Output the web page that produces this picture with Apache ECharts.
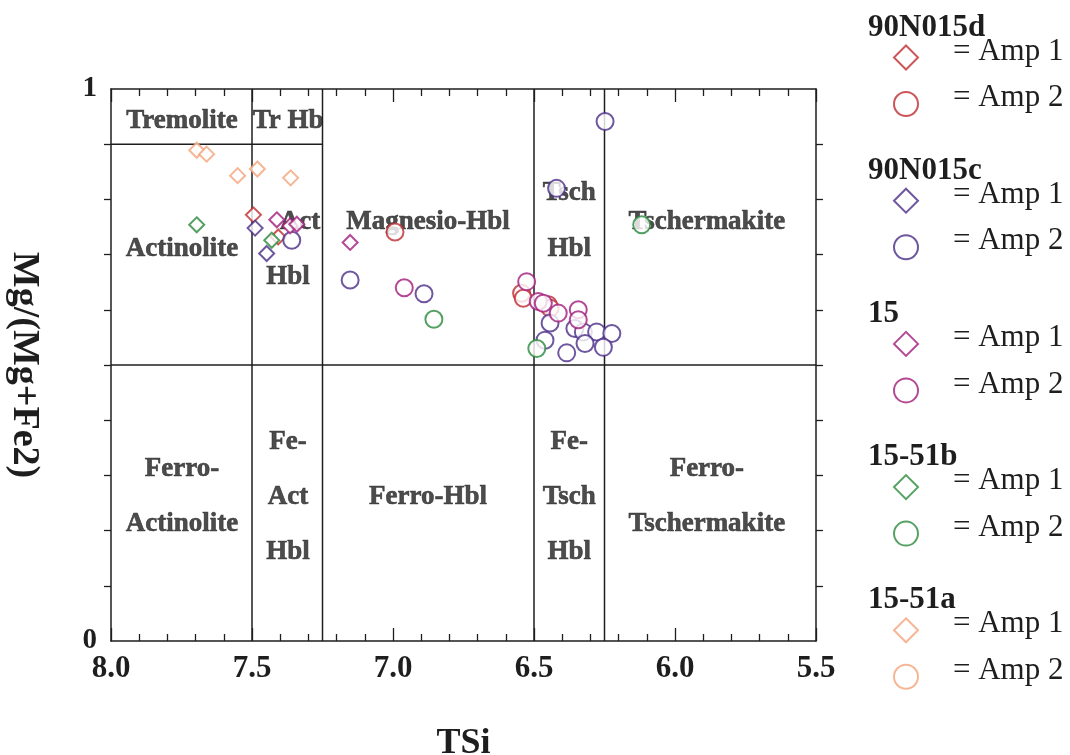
<!DOCTYPE html>
<html>
<head>
<meta charset="utf-8">
<script src="https://cdn.jsdelivr.net/npm/echarts/dist/echarts.min.js"></script>
<style>
  html, body { margin: 0; padding: 0; background: #ffffff; }
  #chart { width: 1070px; height: 755px; }
</style>
</head>
<body>
<div id="chart"></div>
<script>
// Amphibole analyses: [TSi, Mg/(Mg+Fe2)]
const s90N015d_amp1 = [[7.495, 0.772], [7.407, 0.732]];
const s90N015d_amp2 = [[6.993, 0.741], [6.544, 0.630], [6.538, 0.621], [6.449, 0.609], [6.443, 0.603]];
const s90N015c_amp1 = [[7.489, 0.748], [7.448, 0.702]];
const s90N015c_amp2 = [[7.359, 0.726], [7.152, 0.654], [6.890, 0.629], [6.248, 0.941], [6.420, 0.820],
                       [6.443, 0.576], [6.355, 0.566], [6.325, 0.560], [6.278, 0.560], [6.224, 0.557],
                       [6.461, 0.545], [6.319, 0.539], [6.254, 0.532], [6.384, 0.522]];
const s15_amp1 = [[7.412, 0.763], [7.365, 0.752], [7.341, 0.755], [7.152, 0.722]];
const s15_amp2 = [[6.960, 0.640], [6.526, 0.651], [6.485, 0.615], [6.467, 0.612], [6.414, 0.594],
                  [6.343, 0.600], [6.343, 0.582]];
const s1551b_amp1 = [[7.696, 0.754], [7.430, 0.726]];
const s1551b_amp2 = [[6.855, 0.583], [6.118, 0.754], [6.490, 0.530]];
const s1551a_amp1 = [[7.696, 0.889], [7.661, 0.882], [7.551, 0.843], [7.481, 0.855], [7.363, 0.839]];
const s1551a_amp2 = [];

// Sample groups (legend order) and colours
const sampleNames = ['90N015d', '90N015c', '15', '15-51b', '15-51a'];
const sampleColors = ['#bf2a30', '#4b2d88', '#a01c7c', '#2a8a3c', '#f4a47a'];
const sampleData = [
  [s90N015d_amp1, s90N015d_amp2],
  [s90N015c_amp1, s90N015c_amp2],
  [s15_amp1, s15_amp2],
  [s1551b_amp1, s1551b_amp2],
  [s1551a_amp1, s1551a_amp2]
];

// Axis ticks
const xTickLabels = ['8.0', '7.5', '7.0', '6.5', '6.0', '5.5'];
const yTickLabels = ['0', '1'];

// Field boundaries of the classification diagram
const boundaries = [
  [[7.5, 0], [7.5, 1]],
  [[7.25, 0], [7.25, 1]],
  [[6.5, 0], [6.5, 1]],
  [[6.25, 0], [6.25, 1]],
  [[8.0, 0.5], [5.5, 0.5]],
  [[8.0, 0.9], [7.25, 0.9]]
];

// Field names and their anchor points
const fieldNames = [
  'Tremolite', 'Tr Hb', 'Actinolite', 'Act', 'Hbl', 'Magnesio-Hbl', 'Tsch', 'Hbl', 'Tschermakite',
  'Ferro-\nActinolite', 'Fe-\nAct\nHbl', 'Ferro-Hbl', 'Fe-\nTsch\nHbl', 'Ferro-\nTschermakite'
];
const fieldAnchors = [
  [7.748, 0.942], [7.372, 0.942], [7.748, 0.710], [7.330, 0.759], [7.372, 0.659], [6.876, 0.759],
  [6.375, 0.812], [6.375, 0.710], [5.887, 0.759],
  [7.748, 0.261], [7.372, 0.261], [6.876, 0.261], [6.375, 0.261], [5.887, 0.261]
];

const SERIF = '"Liberation Serif", "DejaVu Serif", serif';
const INK = '#1e1e1e';
const FIELD_INK = '#1f1f1f';

const series = [];
boundaries.forEach(seg => {
  series.push({
    type: 'line', data: seg, symbol: 'none', silent: true, z: 1,
    lineStyle: { color: INK, width: 1.5 }, animation: false
  });
});
series.push({
  type: 'scatter', silent: true, z: 2, symbolSize: 0, animation: false,
  data: fieldNames.map((n, i) => ({ name: n, value: fieldAnchors[i] })),
  label: {
    show: true, position: 'inside', formatter: '{b}',
    fontFamily: SERIF, fontWeight: 'bold', fontSize: 27, color: FIELD_INK, lineHeight: 55,
    textBorderColor: FIELD_INK, textBorderWidth: 0.6
  }
});
sampleNames.forEach((name, gi) => {
  ['Amp 1', 'Amp 2'].forEach((amp, ai) => {
    series.push({
      name: name + ' ' + amp,
      type: 'scatter',
      z: 3,
      animation: false,
      symbol: ai === 0 ? 'emptyDiamond' : 'emptyCircle',
      symbolSize: ai === 0 ? 15 : 17,
      data: sampleData[gi][ai],
      itemStyle: { color: sampleColors[gi], borderWidth: 1.8 }
    });
  });
});

const legends = sampleNames.map((name, gi) => ({
  orient: 'vertical',
  left: 888,
  top: 31 + gi * 143.2,
  itemWidth: 24,
  itemHeight: 24,
  itemGap: 12,
  selectedMode: false,
  data: [
    { name: name + ' Amp 1', icon: 'emptyDiamond', itemStyle: { color: sampleColors[gi], borderColor: sampleColors[gi], borderWidth: 2.5 } },
    { name: name + ' Amp 2', icon: 'emptyCircle', itemStyle: { color: sampleColors[gi], borderColor: sampleColors[gi], borderWidth: 2.5 } }
  ],
  formatter: n => '{t|= ' + n.slice(name.length + 1) + '}',
  textStyle: {
    fontFamily: SERIF, fontSize: 31, color: INK, padding: [0, 0, 0, 30],
    rich: { t: { fontFamily: SERIF, fontSize: 31, color: INK, padding: [0, 0, 12, 0] } }
  }
}));

const titles = sampleNames.map((name, gi) => ({
  type: 'text',
  left: 868,
  top: 12 + gi * 143.2,
  style: { text: name, font: 'bold 31px ' + SERIF, fill: INK }
}));

const tickCommon = {
  axisLine: { show: true, onZero: false, lineStyle: { color: INK, width: 1.5 } },
  splitLine: { show: false }
};

const chart = echarts.init(document.getElementById('chart'));
chart.setOption({
  backgroundColor: '#ffffff',
  animation: false,
  grid: { left: 111, right: 254, top: 89, bottom: 114, outerBoundsMode: 'none', containLabel: false },
  legend: legends,
  graphic: titles,
  xAxis: [
    Object.assign({
      type: 'value', inverse: true, min: 5.5, max: 8.0, interval: 0.5, position: 'bottom',
      name: 'TSi', nameLocation: 'middle', nameGap: 85,
      nameTextStyle: { fontFamily: SERIF, fontWeight: 'bold', fontSize: 36, color: INK },
      axisTick: { inside: true, length: 13, lineStyle: { color: INK, width: 1.3 } },
      minorTick: { show: true, splitNumber: 5, length: 7, lineStyle: { color: INK, width: 1.3 } },
      axisLabel: {
        margin: 12, fontFamily: SERIF, fontWeight: 'bold', fontSize: 31, color: INK,
        formatter: v => xTickLabels.find(t => Math.abs(parseFloat(t) - v) < 1e-6) || ''
      }
    }, tickCommon),
    Object.assign({
      type: 'value', inverse: true, min: 5.5, max: 8.0, interval: 0.5, position: 'top',
      axisTick: { inside: true, length: 13, lineStyle: { color: INK, width: 1.3 } },
      minorTick: { show: true, splitNumber: 5, length: 7, lineStyle: { color: INK, width: 1.3 } },
      axisLabel: { show: false }
    }, tickCommon)
  ],
  yAxis: [
    Object.assign({
      type: 'value', min: 0, max: 1, interval: 1, position: 'left',
      name: 'Mg/(Mg+Fe2)', nameLocation: 'middle', nameGap: 68, nameRotate: -90,
      nameTextStyle: { fontFamily: SERIF, fontWeight: 'bold', fontSize: 38, color: INK },
      axisTick: { show: false },
      minorTick: { show: true, splitNumber: 10, length: 7, lineStyle: { color: INK, width: 1.3 } },
      axisLabel: {
        margin: 14, fontFamily: SERIF, fontWeight: 'bold', fontSize: 29, color: INK,
        formatter: v => yTickLabels.find(t => Math.abs(parseFloat(t) - v) < 1e-6) || ''
      }
    }, tickCommon),
    Object.assign({
      type: 'value', min: 0, max: 1, interval: 1, position: 'right',
      axisTick: { show: false },
      minorTick: { show: true, splitNumber: 10, length: 7, lineStyle: { color: INK, width: 1.3 } },
      axisLabel: { show: false }
    }, tickCommon)
  ],
  series: series
});
</script>
</body>
</html>
